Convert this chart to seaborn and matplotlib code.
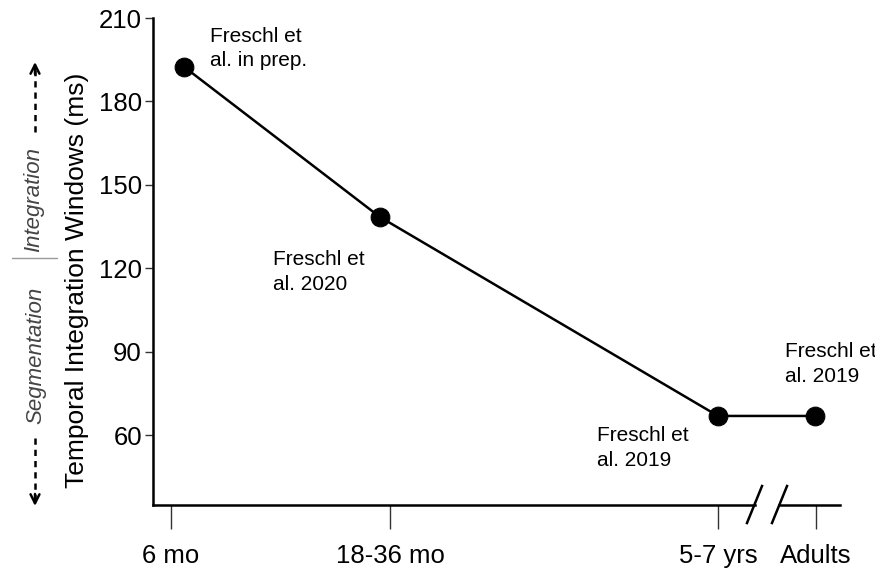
import numpy as np
import pandas as pd
import matplotlib
matplotlib.use("Agg")
import matplotlib.pyplot as plt
import seaborn as sns
from matplotlib.lines import Line2D
from matplotlib.patches import FancyArrowPatch

# ---- data ----
groups = ["6 mo", "18-36 mo", "5-7 yrs", "Adults"]
window_ms = [192.5, 138.5, 67, 67]
sources = ["Freschl et\nal. in prep.", "Freschl et\nal. 2020",
           "Freschl et\nal. 2019", "Freschl et\nal. 2019"]
y_ticks = [60, 90, 120, 150, 180, 210]

# ---- layout ----
tick_pos = [0.0, 1.0, 2.498, 2.945]
marker_shift = [0.059, -0.046, 0.0, -0.004]
label_offsets = [(26, 18), (-107, -55), (-121, -32), (-30, 52)]

W, H = 875, 568
sns.set_theme(style="ticks")
plt.rcParams["font.family"] = ["Liberation Sans", "DejaVu Sans"]

fig = plt.figure(figsize=(W / 100, H / 100), dpi=100)
ax = fig.add_axes([153 / W, 1 - 505 / H, 687 / W, 487 / H])

df = pd.DataFrame({"group": groups, "ms": window_ms,
                   "x": [p + s for p, s in zip(tick_pos, marker_shift)]})
sns.lineplot(data=df, x="x", y="ms", color="black", lw=1.8, marker="o",
             markersize=13.5, markeredgecolor="black", markerfacecolor="black",
             sort=False, ax=ax)

ax.set_xlim(-0.082, 3.055)
ax.set_ylim(35, 210)
ax.set_yticks(y_ticks)
ax.set_xticks(tick_pos)
ax.set_xticklabels(groups)
ax.set_xlabel("")
ax.set_ylabel("")

for s in ["top", "right", "bottom"]:
    ax.spines[s].set_visible(False)
ax.spines["left"].set_linewidth(1.8)
ax.spines["left"].set_color("black")

ax.tick_params(axis="y", length=6, width=1, color="#333333", labelsize=18.5,
               pad=2, labelcolor="black")
ax.tick_params(axis="x", length=17, width=1, color="#333333", labelsize=18.5,
               pad=11, labelcolor="black")

# broken bottom axis
kw = dict(transform=ax.transAxes, clip_on=False, color="black", lw=1.8,
          solid_capstyle="projecting")
ax.plot([0, 0.876], [0, 0], **kw)
ax.plot([0.911, 1.0], [0, 0], **kw)
ax.plot([0.8646, 0.8865], [-0.037, 0.039], **kw)
ax.plot([0.901, 0.9229], [-0.037, 0.039], **kw)

# annotations
for xv, yv, txt, off in zip(df["x"], window_ms, sources, label_offsets):
    ax.annotate(txt, xy=(xv, yv), xytext=off, textcoords="offset pixels",
                ha="left", va="center", fontsize=15, linespacing=1.35,
                color="black")

# y label
fig.text(77 / W, 1 - 280 / H, "Temporal Integration Windows (ms)",
         rotation=90, ha="center", va="center", fontsize=19, color="black")

# segmentation / integration decorations
fig.text(36 / W, 1 - 355 / H, "Segmentation", rotation=90, ha="center",
         va="center", fontsize=16, fontstyle="italic", color="#444444")
fig.text(34 / W, 1 - 200 / H, "Integration", rotation=90, ha="center",
         va="center", fontsize=16, fontstyle="italic", color="#444444")
fig.add_artist(Line2D([12 / W, 57 / W], [1 - 258 / H, 1 - 258 / H],
                      transform=fig.transFigure, color="#999999", lw=1))

ax_x = 35 / W
fig.add_artist(Line2D([ax_x, ax_x], [1 - 132 / H, 1 - 70 / H],
                      transform=fig.transFigure, color="black", lw=1.8,
                      ls=(0, (2.5, 2))))
fig.add_artist(FancyArrowPatch((ax_x, 1 - 74 / H), (ax_x, 1 - 62 / H),
                               transform=fig.transFigure, arrowstyle="->",
                               mutation_scale=16, lw=1.8, color="black",
                               shrinkA=0, shrinkB=0))
fig.add_artist(Line2D([ax_x, ax_x], [1 - 438 / H, 1 - 498 / H],
                      transform=fig.transFigure, color="black", lw=1.8,
                      ls=(0, (2.5, 2))))
fig.add_artist(FancyArrowPatch((ax_x, 1 - 494 / H), (ax_x, 1 - 506 / H),
                               transform=fig.transFigure, arrowstyle="->",
                               mutation_scale=16, lw=1.8, color="black",
                               shrinkA=0, shrinkB=0))

fig.savefig("out.png", dpi=100)
